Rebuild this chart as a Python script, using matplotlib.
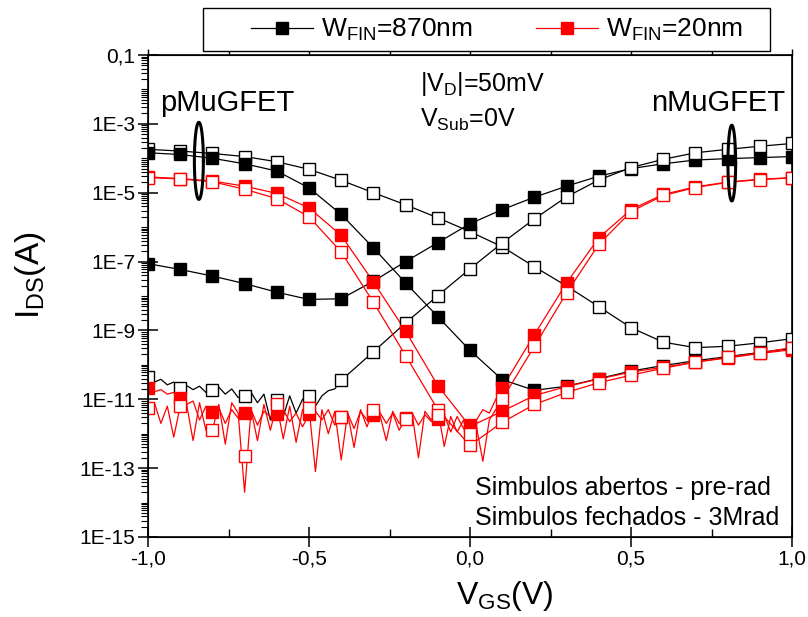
import numpy as np
import matplotlib.pyplot as plt
from matplotlib.lines import Line2D
from matplotlib.patches import Rectangle
from matplotlib.ticker import LogLocator, NullFormatter

plt.rcParams['font.family'] = ['Liberation Sans', 'DejaVu Sans']
plt.rcParams['mathtext.fontset'] = 'custom'
plt.rcParams['mathtext.rm'] = 'Liberation Sans'
plt.rcParams['mathtext.it'] = 'Liberation Sans'
plt.rcParams['mathtext.default'] = 'regular'

# V_GS dos simbolos (passo 0,1 V)
vgs = np.round(np.arange(-1.0, 1.0001, 0.1), 2)

# log10(I_DS) nos simbolos
# W_FIN = 870 nm
w870_pre_p = [-3.74, -3.79, -3.86, -3.95, -4.10, -4.32, -4.64, -5.00, -5.35, -5.73, -6.13,
              -6.57, -7.15, -7.71, -8.31, -8.92, -9.34, -9.50, -9.46, -9.36, -9.24]
w870_rad_p = [-3.84, -3.89, -4.00, -4.16, -4.37, -4.86, -5.63, -6.60, -7.62, -8.60, -9.58,
              -10.43, -10.74, -10.62, -10.40, -10.18, -10.02, -9.88, -9.76, -9.64, -9.52]
w870_rad_n = [-7.06, -7.23, -7.42, -7.64, -7.89, -8.10, -8.08, -7.57, -7.00, -6.45, -5.90,
              -5.49, -5.13, -4.81, -4.52, -4.30, -4.16, -4.05, -4.01, -3.98, -3.95]
w870_pre_n = [-10.35, -10.67, -10.74, -10.91, -11.03, -10.91, -10.45, -9.62, -8.78, -7.99, -7.21,
              -6.46, -5.76, -5.12, -4.63, -4.27, -4.03, -3.84, -3.74, -3.65, -3.57]
# W_FIN = 20 nm
w20_rad_p = [-4.54, -4.59, -4.66, -4.81, -5.02, -5.44, -6.24, -7.59, -9.02, -10.60, -11.79,
             -11.35, -10.89, -10.63, -10.41, -10.21, -10.07, -9.92, -9.80, -9.67, -9.56]
w20_pre_p = [-4.56, -4.60, -4.68, -4.90, -5.17, -5.70, -6.72, -8.18, -9.73, -11.30, -12.34,
             -11.67, -11.15, -10.80, -10.52, -10.30, -10.10, -9.92, -9.78, -9.65, -9.50]
w20_rad_n = [-10.67, -10.96, -11.38, -11.40, -11.42, -11.44, -11.51, -11.47, -11.55, -11.57, -11.75,
             -10.67, -9.12, -7.62, -6.31, -5.49, -5.05, -4.83, -4.69, -4.61, -4.56]
w20_pre_n = [-11.25, -11.20, -11.90, -12.64, -11.15, -11.25, -11.51, -11.30, -11.57, -11.45, -12.00,
             -11.00, -9.46, -7.91, -6.50, -5.55, -5.08, -4.85, -4.70, -4.62, -4.57]

# trechos ruidosos (passo 0,02 V), log10(I_DS)
v_noise_red = np.round(np.arange(-1.0, 0.1001, 0.02), 2)
w20_rad_n_noise = [-10.67, -10.78, -10.72, -10.85, -10.80,
                   -10.96, -11.15, -11.05, -11.60, -11.20,
                   -11.38, -11.25, -11.70, -11.30, -11.55,
                   -11.40, -11.30, -11.75, -11.35, -11.50,
                   -11.42, -11.30, -11.65, -11.40, -11.80,
                   -11.44, -11.35, -11.60, -11.30, -11.75,
                   -11.51, -11.40, -11.85, -11.35, -11.60,
                   -11.47, -11.38, -11.70, -11.40, -11.90,
                   -11.55, -11.40, -11.75, -11.45, -11.65,
                   -11.57, -11.45, -11.95, -11.50, -11.85,
                   -11.75, -11.60, -11.30, -11.40, -11.00,
                   -10.67]
w20_pre_n_noise = [-11.25, -11.10, -11.70, -11.20, -12.10,
                   -11.20, -11.15, -12.20, -11.10, -11.90,
                   -11.90, -11.15, -12.30, -11.10, -11.40,
                   -13.70, -11.30, -12.20, -11.15, -11.90,
                   -11.15, -12.15, -11.20, -12.25, -11.30,
                   -11.25, -13.10, -11.30, -12.00, -11.35,
                   -12.76, -11.40, -12.40, -11.30, -11.80,
                   -11.30, -11.45, -12.20, -11.35, -11.70,
                   -11.57, -11.40, -12.70, -11.35, -11.60,
                   -11.30, -12.37, -11.50, -11.95, -11.60,
                   -12.20, -11.80, -12.80, -11.60, -11.30,
                   -11.00]
v_noise_blk = np.round(np.arange(-1.0, -0.3999, 0.02), 2)
w870_pre_n_noise = [-10.35, -10.50, -10.42, -10.58, -10.50,
                    -10.67, -10.60, -10.72, -10.62, -10.80,
                    -10.74, -10.65, -10.85, -10.70, -10.95,
                    -10.91, -10.80, -11.10, -10.85, -11.60,
                    -11.03, -11.50, -10.90, -11.40, -11.00,
                    -10.91, -11.20, -10.90, -10.75, -10.70,
                    -10.45]


def trace(v_noise, i_noise, marks):
    # ruido ate o fim do trecho medido, depois os pontos dos simbolos
    mask = vgs > v_noise[-1] + 1e-6
    x = np.concatenate([v_noise, vgs[mask]])
    y = np.concatenate([i_noise, np.array(marks)[mask]])
    return x, 10.0 ** y


fig = plt.figure(figsize=(8.08, 6.17), dpi=100)
ax = fig.add_axes([148 / 808, 1 - 537 / 617, 644 / 808, 482 / 617])

lw = 0.9
ms = 8.5
curves = [
    # (x, y, cor, cheio)
    (vgs, 10.0 ** np.array(w870_pre_p), 'k', False),
    (vgs, 10.0 ** np.array(w870_rad_p), 'k', True),
    (vgs, 10.0 ** np.array(w870_rad_n), 'k', True),
    (*trace(v_noise_blk, w870_pre_n_noise, w870_pre_n), 'k', False),
    (vgs, 10.0 ** np.array(w20_rad_p), 'r', True),
    (vgs, 10.0 ** np.array(w20_pre_p), 'r', False),
    (*trace(v_noise_red, w20_rad_n_noise, w20_rad_n), 'r', True),
    (*trace(v_noise_red, w20_pre_n_noise, w20_pre_n), 'r', False),
]
marks = [w870_pre_p, w870_rad_p, w870_rad_n, w870_pre_n,
         w20_rad_p, w20_pre_p, w20_rad_n, w20_pre_n]

for (x, y, c, filled), m in zip(curves, marks):
    ax.plot(x, y, color=c, lw=lw, zorder=2)
for (x, y, c, filled), m in zip(curves, marks):
    ax.plot(vgs, 10.0 ** np.array(m), ls='none', marker='s', ms=ms,
            mec=c, mfc=c if filled else 'white', mew=1.0, zorder=3)

# elipses
t = np.linspace(0, 2 * np.pi, 200)
for cx, cy, a, b in [(-0.842, -4.075, 0.014, 1.12), (0.813, -4.14, 0.012, 1.10)]:
    ax.plot(cx + a * np.cos(t), 10.0 ** (cy + b * np.sin(t)), color='k', lw=2.2, zorder=4)

ax.set_yscale('log')
ax.set_xlim(-1.0, 1.0)
ax.set_ylim(1e-15, 1e-1)

yt = 10.0 ** np.arange(-15, 0, 2)
ax.set_yticks(yt)
ax.set_yticklabels(['1E-15', '1E-13', '1E-11', '1E-9', '1E-7', '1E-5', '1E-3', '0,1'])
ax.yaxis.set_minor_locator(LogLocator(base=10, subs=np.arange(1, 10) * 1.0, numticks=200))
ax.yaxis.set_minor_formatter(NullFormatter())

ax.set_xticks([-1.0, -0.5, 0.0, 0.5, 1.0])
ax.set_xticklabels(['-1,0', '-0,5', '0,0', '0,5', '1,0'])
ax.set_xticks([-0.75, -0.25, 0.25, 0.75], minor=True)

ax.tick_params(axis='both', which='major', direction='inout', length=14, width=1.1,
               labelsize=15, pad=2)
ax.tick_params(axis='y', which='minor', direction='out', length=5, width=0.8)
ax.tick_params(axis='x', which='minor', direction='in', length=6, width=1.0)
for s in ax.spines.values():
    s.set_linewidth(1.2)

ax_top = ax.twiny()
ax_top.set_xlim(-1.0, 1.0)
ax_top.set_xticks(np.arange(-1.0, 1.001, 0.25))
ax_top.tick_params(axis='x', direction='out', length=4, width=1.0, labeltop=False)

# textos
ax.text(0.0186, 0.884, 'pMuGFET', transform=ax.transAxes, fontsize=21, va='baseline')
ax.text(0.989, 0.884, 'nMuGFET', transform=ax.transAxes, fontsize=21, va='baseline', ha='right')
ax.text(0.4224, 0.925, '|V$_D$|=50mV', transform=ax.transAxes, fontsize=18, va='baseline')
ax.text(0.4224, 0.851, 'V$_{Sub}$=0V', transform=ax.transAxes, fontsize=18, va='baseline')
ax.text(0.508, 0.087, 'Simbulos abertos - pre-rad', transform=ax.transAxes, fontsize=18,
        va='baseline')
ax.text(0.508, 0.025, 'Simbulos fechados - 3Mrad', transform=ax.transAxes, fontsize=18,
        va='baseline')

fig.text(505 / 808, 1 - 604 / 617, 'V$_{GS}$(V)', fontsize=23, ha='center', va='baseline')
fig.text(30 / 808, 1 - 275 / 617, 'I$_{DS}$(A)', fontsize=24, ha='center', va='center',
         rotation=90)

# legenda
fig.patches.append(Rectangle((203 / 808, 1 - 51 / 617), 567 / 808, 43 / 617,
                             transform=fig.transFigure, facecolor='white',
                             edgecolor='k', lw=1.0, zorder=5))
handles = [Line2D([], [], color='k', lw=lw, marker='s', ms=ms),
           Line2D([], [], color='r', lw=lw, marker='s', ms=ms)]
leg = fig.legend(handles, ['W$_{FIN}$=870nm', 'W$_{FIN}$=20nm'], loc='center left',
                 bbox_to_anchor=(251 / 808, 1 - 30 / 617), ncol=2, frameon=False,
                 fontsize=19, handlelength=2.35, handletextpad=0.3, columnspacing=2.4,
                 borderpad=0, borderaxespad=0)
leg.set_zorder(6)

fig.savefig('out.png', dpi=100)
